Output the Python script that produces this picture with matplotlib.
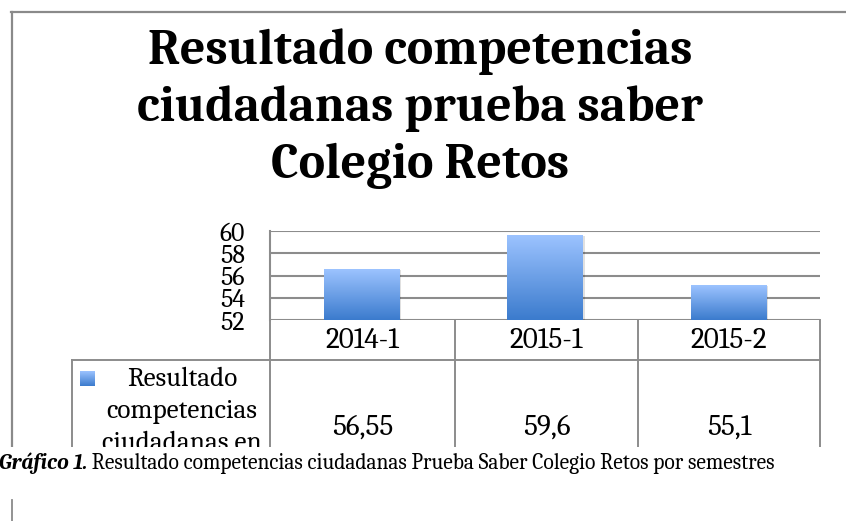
import matplotlib
matplotlib.use("Agg")
import numpy as np
import matplotlib.pyplot as plt
from matplotlib.colors import LinearSegmentedColormap

# data
semestres = ["2014-1", "2015-1", "2015-2"]
resultados = [56.55, 59.6, 55.1]
y_ticks = [52, 54, 56, 58, 60]
title_lines = ["Resultado competencias", "ciudadanas prueba saber", "Colegio Retos"]
serie = ["Resultado", "competencias", "ciudadanas en"]
caption_bold = "Gráfico 1."
caption_rest = " Resultado competencias ciudadanas Prueba Saber Colegio Retos por semestres"

W, H = 846, 521
FONT = "Caladea"
GRID = "#8c8c8c"
grad = LinearSegmentedColormap.from_list("bar", ["#3b7bcd", "#9cc3ff"])
ramp = np.linspace(0, 1, 256).reshape(-1, 1)

fig = plt.figure(figsize=(W / 100, H / 100), dpi=100)

# background layer in pixel coords
bg = fig.add_axes([0, 0, 1, 1])
bg.set_xlim(0, W)
bg.set_ylim(H, 0)
bg.axis("off")

# chart box, clipped at the bottom like the source
clip_y = 447
box = fig.add_axes([0, (H - clip_y) / H, 1, clip_y / H])
box.set_xlim(0, W)
box.set_ylim(clip_y, 0)
box.axis("off")

box.plot([11.5, 11.5], [12, clip_y + 5], color="#8a8a8a", lw=1.6)
box.plot([11, W], [12, 12], color="#8a8a8a", lw=1.6)

for i, line in enumerate(title_lines):
    box.text(420, 64 + i * 57, line, ha="center", va="baseline",
             fontsize=36, fontweight="bold", family=FONT)

# table grid below the plot
cols = [270, 455, 638, 820]
box.plot([72, cols[-1]], [360, 360], color=GRID, lw=1.4)
box.plot([72, 72], [360, clip_y + 5], color=GRID, lw=1.4)
for cx in cols:
    box.plot([cx, cx], [320, clip_y + 5], color=GRID, lw=1.4)
for i, (sem, val) in enumerate(zip(semestres, resultados)):
    xc = (cols[i] + cols[i + 1]) / 2
    box.text(xc, 348, sem, ha="center", va="baseline", fontsize=21, family=FONT, clip_on=True)
    box.text(xc, 435, f"{val:g}".replace(".", ","), ha="center", va="baseline",
             fontsize=21, family=FONT, clip_on=True)

# legend key + series name
box.imshow(ramp, extent=[80, 95, 386, 371], origin="lower", cmap=grad, aspect="auto")
box.set_xlim(0, W)
box.set_ylim(clip_y, 0)
for i, s in enumerate(serie):
    box.text(182, 386 + i * 32, s, ha="center", va="baseline", fontsize=19.5,
             family=FONT, clip_on=True)

# plot area
ax = fig.add_axes([cols[0] / W, (H - 320) / H, (cols[-1] - cols[0]) / W, 89 / H])
ax.set_facecolor("none")
x = np.arange(len(semestres))
bw = 0.41
bars = ax.bar(x, np.array(resultados) - 52, bottom=52, width=bw, color="none")
for b, v in zip(bars, resultados):
    l = b.get_x()
    r = l + b.get_width()
    ax.add_patch(plt.Rectangle((l + 0.012, 52), bw, v - 52 - 0.05, color="#000000",
                               alpha=0.12, lw=0, zorder=1))
    ax.imshow(ramp, extent=[l, r, 52, v], origin="lower", cmap=grad, aspect="auto", zorder=2)
ax.set_xlim(-0.5, len(semestres) - 0.5)
ax.set_ylim(52, 60)
ax.set_yticks(y_ticks)
ax.set_yticklabels([str(t) for t in y_ticks], fontsize=18.5, family=FONT)
ax.tick_params(axis="y", length=0, pad=18)
ax.set_xticks([])
ax.yaxis.grid(True, color=GRID, lw=1.5)
ax.set_axisbelow(True)
for side in ("top", "right", "bottom"):
    ax.spines[side].set_visible(False)
ax.spines["left"].set_color(GRID)
ax.spines["left"].set_linewidth(1.5)

# caption
bg.plot([12, 12], [500, H], color="#8a8a8a", lw=1.3)
t1 = bg.text(-1, 469, caption_bold, ha="left", va="baseline", fontsize=15.5,
             fontweight="bold", style="italic", family=FONT)
fig.canvas.draw()
bb = t1.get_window_extent()
x_end = bb.x1  # pixels == data units in bg
bg.text(x_end, 469, caption_rest, ha="left", va="baseline", fontsize=15.5, family=FONT)

fig.savefig("out.png", dpi=100)
